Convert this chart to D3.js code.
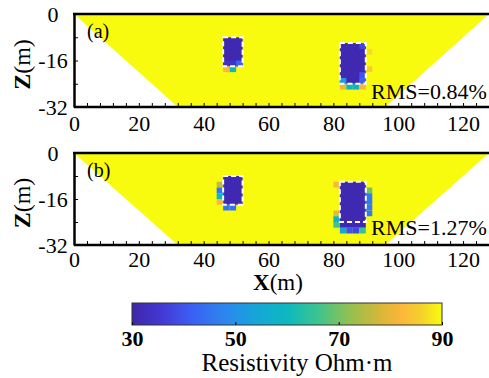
<!DOCTYPE html>
<html>
<head>
<meta charset="utf-8">
<script src="https://cdn.jsdelivr.net/npm/d3@7"></script>
<style>
  body { margin: 0; background: #fff; }
  svg { display: block; }
  text { font-family: "Liberation Serif", "Times New Roman", serif; fill: #000; }
</style>
</head>
<body>
<svg id="chart" width="489" height="378"></svg>
<script>
// model geometry (m) and colour range
var xDomain = [0, 128];
var zDomain = [0, -32];
var groundPoly = [[0, 0], [128, 0], [96, -32], [32, -32]];
var background = 90;
var cellSize = 2;

var xTicks = d3.range(0, 125, 4);
var xLabels = [0, 20, 40, 60, 80, 100, 120];
var zTicks = [0, -8, -16, -24, -32];
var zLabels = [0, -16, -32];
var cbarTicks = [30, 50, 70, 90];

// true bodies (dashed outline)
var bodies = [
  {x0: 46, x1: 52, z0: -8, z1: -18},
  {x0: 82, x1: 90, z0: -10, z1: -24}
];

// inverted low-resistivity blocks [x0, x1, ztop, zbottom, value]
var blocksA = [[46, 52, -8, -18, 31], [82, 90, -10, -24, 31]];
var blocksB = [[46, 52, -8, -18, 31], [82, 90, -10, -26, 31]];

// single cells [x, ztop, value]
var cellsA = [
  [46, -16, 34], [48, -16, 34], [50, -16, 42],
  [46, -18, 82], [48, -18, 60],
  [88, -10, 38], [88, -20, 40], [88, -22, 42], [82, -22, 52],
  [82, -24, 80], [84, -24, 60], [86, -24, 58], [88, -24, 82],
  [90, -12, 87], [90, -18, 85]
];
var cellsB = [
  [44, -10, 76], [44, -12, 45], [44, -14, 60], [44, -16, 82],
  [46, -18, 45], [48, -18, 45],
  [80, -10, 82], [80, -20, 80], [80, -22, 58], [80, -24, 66],
  [90, -12, 70], [90, -14, 46], [90, -16, 46], [90, -18, 46], [90, -20, 46],
  [82, -26, 55], [84, -26, 40], [86, -26, 38], [88, -26, 65]
];

var rmsA = "RMS=0.84%";
var rmsB = "RMS=1.27%";

// parula-like colour map
var colorStops = [30, 36, 42, 48, 54, 60, 66, 72, 78, 82, 86, 90];
var colorList = ["#3e26a8", "#4439d6", "#3a62f6", "#2c86ee", "#16a6d8", "#0cb8c0",
                 "#3dc48e", "#92c052", "#d7b737", "#fbb63b", "#f4d12c", "#f9fb0e"];
var color = d3.scaleLinear().domain(colorStops).range(colorList).clamp(true);

var svg = d3.select("#chart");

var x = d3.scaleLinear().domain(xDomain).range([74, 489]);

function drawPanel(top, bottom, blocks, cells, tag, rms, rmsY, labelY) {
  var y = d3.scaleLinear().domain(zDomain).range([top, bottom]);
  var g = svg.append("g");

  g.append("polygon")
    .attr("points", groundPoly.map(function(p) { return x(p[0]) + "," + y(p[1]); }).join(" "))
    .attr("fill", color(background));

  g.selectAll("rect.block")
    .data(blocks)
    .enter().append("rect")
    .attr("x", function(d) { return x(d[0]); })
    .attr("width", function(d) { return x(d[1]) - x(d[0]); })
    .attr("y", function(d) { return y(d[2]); })
    .attr("height", function(d) { return y(d[3]) - y(d[2]); })
    .attr("fill", function(d) { return color(d[4]); });

  g.selectAll("rect.cell")
    .data(cells)
    .enter().append("rect")
    .attr("x", function(d) { return x(d[0]); })
    .attr("width", x(cellSize) - x(0))
    .attr("y", function(d) { return y(d[1]); })
    .attr("height", y(-cellSize) - y(0))
    .attr("fill", function(d) { return color(d[2]); });

  g.selectAll("rect.body")
    .data(bodies)
    .enter().append("rect")
    .attr("x", function(d) { return x(d.x0); })
    .attr("width", function(d) { return x(d.x1) - x(d.x0); })
    .attr("y", function(d) { return y(d.z0); })
    .attr("height", function(d) { return y(d.z1) - y(d.z0); })
    .attr("fill", "none")
    .attr("stroke", "#fff")
    .attr("stroke-width", 2)
    .attr("stroke-dasharray", "5,3");

  // axes
  var xa = g.append("g")
    .attr("transform", "translate(0," + bottom + ")")
    .call(d3.axisBottom(x).tickValues(xTicks).tickSize(-4).tickSizeOuter(0)
      .tickFormat(function(d) { return xLabels.indexOf(d) >= 0 ? d : ""; }));
  xa.select(".domain").attr("stroke-width", 2.5).attr("d", "M74,0H489");
  xa.selectAll("text").attr("y", labelY).attr("dy", 0).style("font-size", "22px");

  var ya = g.append("g")
    .attr("transform", "translate(74,0)")
    .call(d3.axisLeft(y).tickValues(zTicks).tickSize(-4).tickSizeOuter(0)
      .tickFormat(function(d) { return zLabels.indexOf(d) >= 0 ? d : ""; }));
  ya.select(".domain").attr("stroke-width", 2.5);
  ya.selectAll("text").attr("x", -21).attr("text-anchor", "middle")
    .attr("dy", "0.34em").style("font-size", "22px");

  g.append("line")
    .attr("x1", 73).attr("x2", 489)
    .attr("y1", top).attr("y2", top)
    .attr("stroke", "#000").attr("stroke-width", 2.5);

  g.selectAll(".tick line").attr("stroke-width", 1);

  g.append("text")
    .attr("x", 87).attr("y", top + 24)
    .style("font-size", "20px")
    .text(tag);

  g.append("text")
    .attr("x", 371).attr("y", rmsY)
    .style("font-size", "22px")
    .text(rms);

  var zl = g.append("text")
    .attr("transform", "translate(30," + ((top + bottom) / 2 + 4) + ") rotate(-90)")
    .attr("text-anchor", "middle")
    .style("font-size", "24px");
  zl.append("tspan").style("font-weight", "bold").text("Z");
  zl.append("tspan").text("(m)");
}

drawPanel(14, 107, blocksA, cellsA, "(a)", rmsA, 99, 24);
drawPanel(153, 245, blocksB, cellsB, "(b)", rmsB, 235, 22);

var xl = svg.append("text")
  .attr("x", 278).attr("y", 290)
  .attr("text-anchor", "middle")
  .style("font-size", "23px");
xl.append("tspan").style("font-weight", "bold").text("X");
xl.append("tspan").text("(m)");

// colour bar
var cb = d3.scaleLinear().domain([30, 90]).range([132, 442]);
var grad = svg.append("defs").append("linearGradient").attr("id", "cbgrad");
grad.selectAll("stop")
  .data(colorStops)
  .enter().append("stop")
  .attr("offset", function(d) { return (d - 30) / 60; })
  .attr("stop-color", function(d) { return color(d); });

svg.append("rect")
  .attr("x", cb(30)).attr("y", 303)
  .attr("width", cb(90) - cb(30)).attr("height", 22)
  .attr("fill", "url(#cbgrad)")
  .attr("stroke", "#333").attr("stroke-width", 1);

var cba = svg.append("g")
  .attr("transform", "translate(0,325)")
  .call(d3.axisBottom(cb).tickValues(cbarTicks).tickSize(-3).tickSizeOuter(0));
cba.select(".domain").remove();
cba.selectAll("text").attr("y", 21).attr("dy", 0)
  .style("font-size", "22px").style("font-weight", "bold");

svg.append("text")
  .attr("x", 297).attr("y", 371)
  .attr("text-anchor", "middle")
  .style("font-size", "25px")
  .text("Resistivity Ohm·m");
</script>
</body>
</html>
